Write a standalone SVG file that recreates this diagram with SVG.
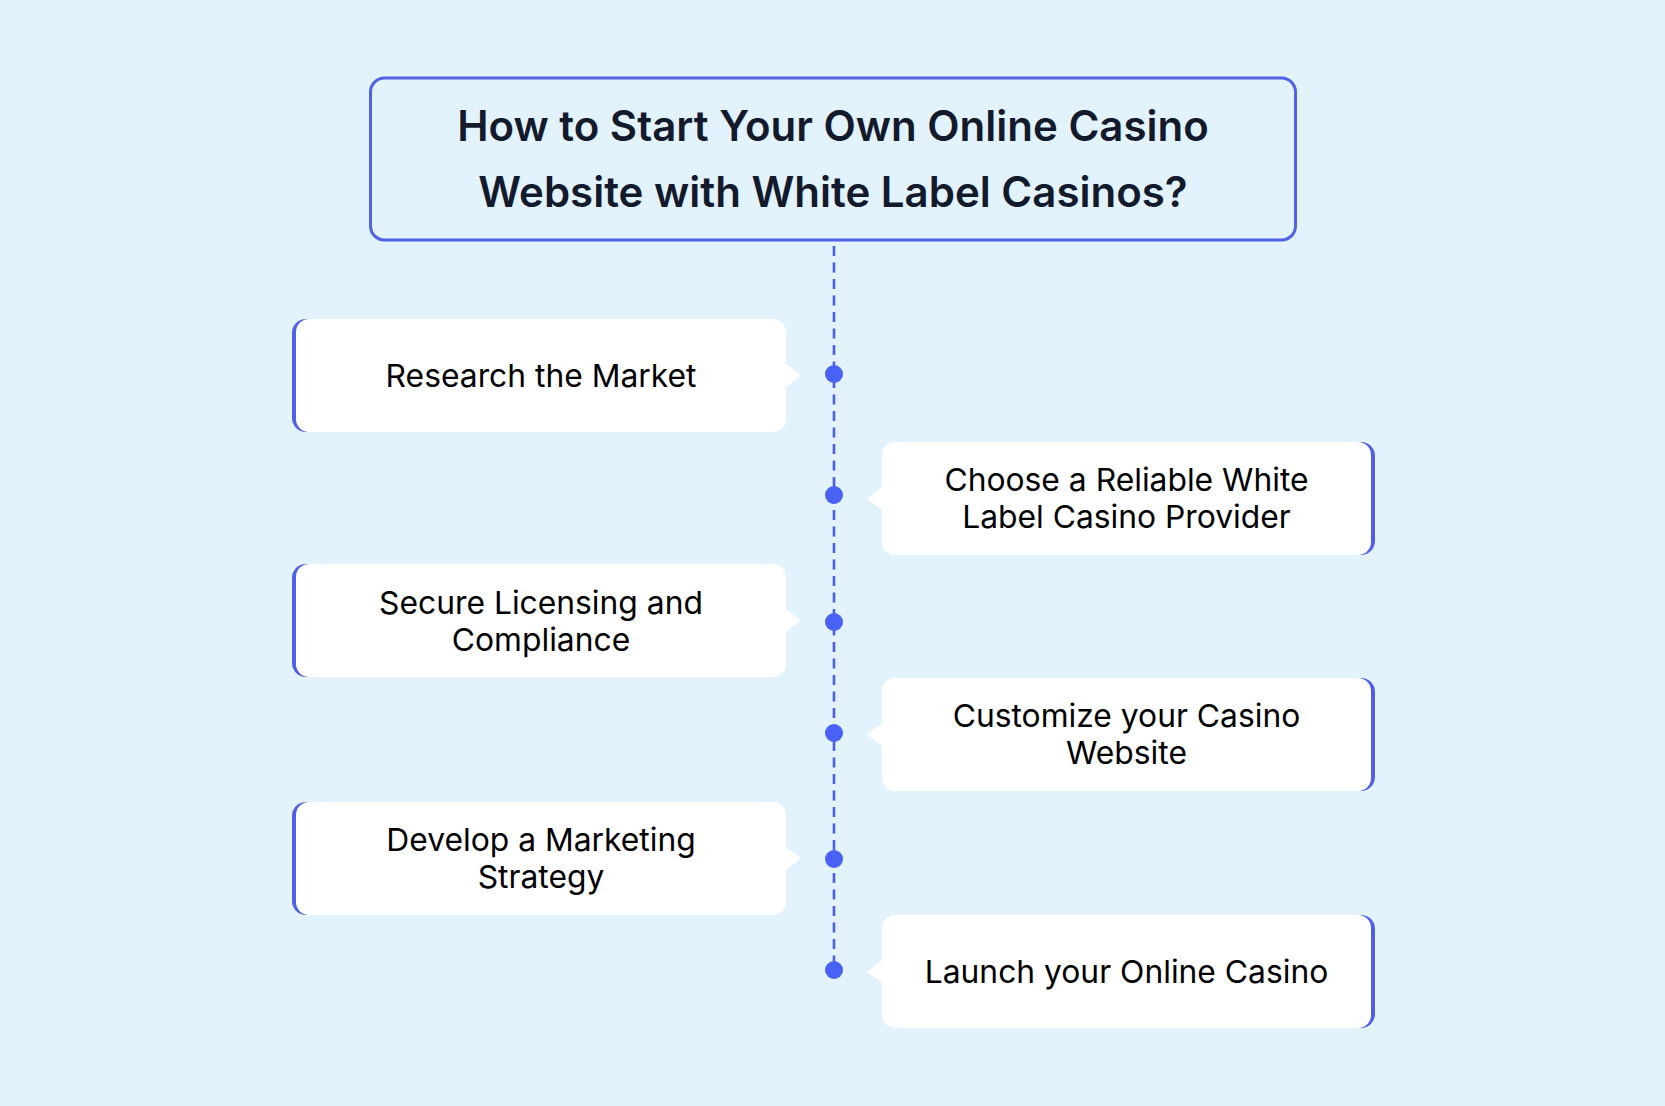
<svg xmlns="http://www.w3.org/2000/svg" width="1665" height="1106" viewBox="0 0 1665 1106">
  <defs>
    <style>
      .bg { fill: #e2f3fe; }
      .title-box { fill: #e2f3fe; stroke: #5062e6; stroke-width: 3; }
      .title { font-family: Inter, "Liberation Sans", sans-serif; font-weight: 600; font-size: 42px; fill: #131a2c; text-anchor: middle; }
      .accent { fill: #4f5fe9; }
      .card { fill: #ffffff; }
      .label { font-family: Inter, "Liberation Sans", sans-serif; font-weight: 400; font-size: 31.8px; fill: #000000; text-anchor: middle; }
      .spine { stroke: #4a5fec; stroke-width: 2.6; stroke-dasharray: 10 6.5; fill: none; }
      .dot { fill: #4a61f6; }
    </style>
  </defs>

  <rect class="bg" x="0" y="0" width="1665" height="1106"/>

  <g id="title">
    <rect class="title-box" x="370.5" y="78" width="925" height="162" rx="14"/>
    <text class="title" x="833" y="141">How to Start Your Own Online Casino</text>
    <text class="title" x="833" y="207">Website with White Label Casinos?</text>
  </g>

  <g id="connectors">
    <line class="spine" x1="834" y1="246" x2="834" y2="969"/>
    <circle class="dot" cx="834" cy="374" r="9"/>
    <circle class="dot" cx="834" cy="495" r="9"/>
    <circle class="dot" cx="834" cy="622" r="9"/>
    <circle class="dot" cx="834" cy="733" r="9"/>
    <circle class="dot" cx="834" cy="859" r="9"/>
    <circle class="dot" cx="834" cy="970" r="9"/>
  </g>

  <g id="step1">
    <rect class="accent" x="292" y="319" width="490" height="113" rx="14"/>
    <rect class="card" x="296" y="319" width="490" height="113" rx="13"/>
    <polygon class="card" points="785,363.5 801,375.5 785,387.5"/>
    <text class="label" x="541" y="387">Research the Market</text>
  </g>

  <g id="step2">
    <rect class="accent" x="886" y="442" width="489" height="113" rx="14"/>
    <rect class="card" x="882" y="442" width="489" height="113" rx="13"/>
    <polygon class="card" points="883,486.5 867,498.5 883,510.5"/>
    <text class="label" x="1126.5" y="491">Choose a Reliable White</text>
    <text class="label" x="1126.5" y="528">Label Casino Provider</text>
  </g>

  <g id="step3">
    <rect class="accent" x="292" y="564" width="490" height="113" rx="14"/>
    <rect class="card" x="296" y="564" width="490" height="113" rx="13"/>
    <polygon class="card" points="785,608.5 801,620.5 785,632.5"/>
    <text class="label" x="541" y="614">Secure Licensing and</text>
    <text class="label" x="541" y="651">Compliance</text>
  </g>

  <g id="step4">
    <rect class="accent" x="886" y="678" width="489" height="113" rx="14"/>
    <rect class="card" x="882" y="678" width="489" height="113" rx="13"/>
    <polygon class="card" points="883,722.5 867,734.5 883,746.5"/>
    <text class="label" x="1126.5" y="727">Customize your Casino</text>
    <text class="label" x="1126.5" y="764">Website</text>
  </g>

  <g id="step5">
    <rect class="accent" x="292" y="802" width="490" height="113" rx="14"/>
    <rect class="card" x="296" y="802" width="490" height="113" rx="13"/>
    <polygon class="card" points="785,846.5 801,858.5 785,870.5"/>
    <text class="label" x="541" y="851">Develop a Marketing</text>
    <text class="label" x="541" y="888">Strategy</text>
  </g>

  <g id="step6">
    <rect class="accent" x="886" y="915" width="489" height="113" rx="14"/>
    <rect class="card" x="882" y="915" width="489" height="113" rx="13"/>
    <polygon class="card" points="883,959.5 867,971.5 883,983.5"/>
    <text class="label" x="1126.5" y="983">Launch your Online Casino</text>
  </g>
</svg>
